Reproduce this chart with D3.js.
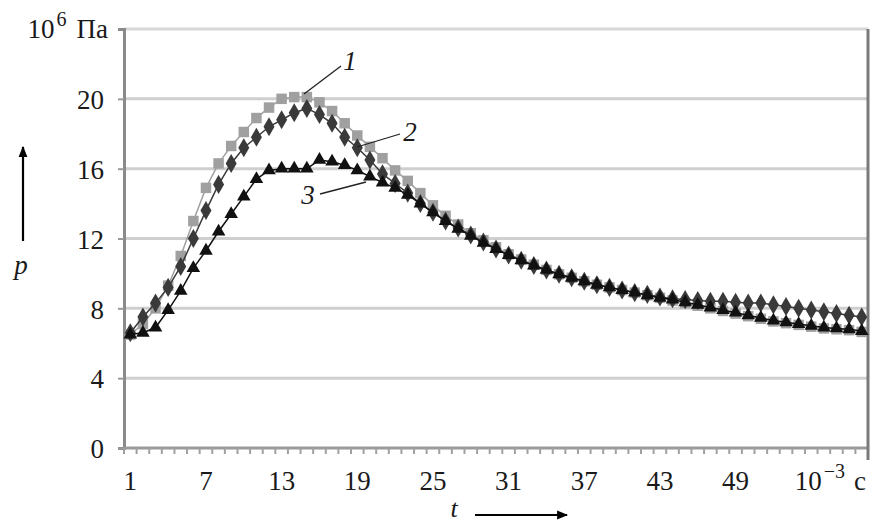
<!DOCTYPE html>
<html>
<head>
<meta charset="utf-8">
<script src="https://cdn.jsdelivr.net/npm/d3@7"></script>
<style>
  body { margin: 0; background: #fff; }
  svg text { font-family: "Liberation Serif", "DejaVu Serif", serif; fill: #1a1a1a; }
</style>
</head>
<body>
<svg id="chart" width="873" height="524"></svg>
<script>
// categories (time steps, 10^-3 s)
const categories = d3.range(1, 60);
const xTickLabels = [1, 7, 13, 19, 25, 31, 37, 43, 49];
const yTicks = [0, 4, 8, 12, 16, 20];

// curve 1 (grey squares)
const series1 = [
  6.5, 7.1, 8.0, 9.3, 11.0, 13.0, 14.9, 16.3, 17.3, 18.1, 18.9, 19.5, 20.0, 20.1, 20.1,
  19.8, 19.3, 18.6, 17.9, 17.25, 16.6, 15.9, 15.3, 14.6, 13.9,
  13.3, 12.8, 12.3, 11.9, 11.5, 11.1, 10.8, 10.5, 10.2, 9.95, 9.75, 9.55, 9.35, 9.2, 9.05, 8.9, 8.75, 8.6, 8.45,
  8.3, 8.15, 8.0, 7.85, 7.7, 7.55, 7.4, 7.25, 7.15, 7.05, 6.95, 6.85, 6.8, 6.75, 6.65
];
// curve 2 (dark diamonds)
const series2 = [
  6.6, 7.5, 8.3, 9.2, 10.4, 12.0, 13.6, 15.1, 16.3, 17.2, 17.8, 18.4, 18.8, 19.2, 19.45,
  19.1, 18.6, 17.8, 17.2, 16.5, 15.7, 15.15, 14.6, 14.0, 13.5,
  13.0, 12.6, 12.2, 11.8, 11.4, 11.05, 10.75, 10.45, 10.2, 9.95, 9.75, 9.55, 9.35, 9.2, 9.05, 8.9, 8.8, 8.65, 8.55,
  8.5, 8.45, 8.4, 8.4, 8.35, 8.3, 8.3, 8.2, 8.1, 8.0, 7.9, 7.8, 7.7, 7.6, 7.5
];
// curve 3 (black triangles)
const series3 = [
  6.5, 6.6, 6.9, 7.9, 9.0, 10.3, 11.3, 12.4, 13.4, 14.4, 15.4, 15.9, 16.0, 16.0, 16.0,
  16.5, 16.4, 16.2, 15.9, 15.55, 15.2, 14.9, 14.5, 14.0, 13.5,
  13.0, 12.55, 12.15, 11.75, 11.4, 11.05, 10.75, 10.45, 10.2, 9.95, 9.75, 9.55, 9.35, 9.2, 9.05, 8.9, 8.75, 8.6, 8.5,
  8.35, 8.2, 8.05, 7.9, 7.75, 7.6, 7.45, 7.3, 7.2, 7.1, 7.0, 6.9, 6.85, 6.8, 6.7
];

const svg = d3.select("#chart");
const plotLeft = 124, plotRight = 868, plotTop = 29, plotBottom = 448;

const x = d3.scaleBand().domain(categories).range([plotLeft, plotRight]).padding(0);
const y = d3.scaleLinear().domain([0, 24]).range([plotBottom, plotTop]);
const cx = (d) => x(d) + x.bandwidth() / 2;

// gridlines
svg.append("g")
  .selectAll("line")
  .data(yTicks.filter((t) => t > 0).concat([24]))
  .enter()
  .append("line")
  .attr("x1", plotLeft).attr("x2", plotRight)
  .attr("y1", (d) => y(d)).attr("y2", (d) => y(d))
  .attr("stroke", (d) => (d === 24 ? "#d6d6d6" : "#cfcfcf"))
  .attr("stroke-width", 3);

// left axis
const yAxis = svg.append("g")
  .attr("transform", `translate(${plotLeft},0)`)
  .call(d3.axisLeft(y).tickValues(yTicks).tickSize(6).tickPadding(14).tickFormat(d3.format("d")));
yAxis.select(".domain").attr("stroke", "#8a8a8a").attr("stroke-width", 3);
yAxis.selectAll(".tick line").attr("stroke", "#9a9a9a").attr("stroke-width", 2);
yAxis.selectAll(".tick text").style("font-size", "27px").attr("dy", "0.36em");

// bottom axis, tick marks between categories
const xAxis = svg.append("g").attr("transform", `translate(0,${plotBottom})`);
xAxis.append("line")
  .attr("x1", plotLeft).attr("x2", plotRight)
  .attr("stroke", "#9a9a9a").attr("stroke-width", 3);
xAxis.selectAll(".xt")
  .data(categories.concat([categories.length + 1]))
  .enter()
  .append("line")
  .attr("class", "xt")
  .attr("x1", (d) => plotLeft + (d - 1) * x.bandwidth())
  .attr("x2", (d) => plotLeft + (d - 1) * x.bandwidth())
  .attr("y1", 0).attr("y2", 6)
  .attr("stroke", "#a0a0a0").attr("stroke-width", 2);
xAxis.selectAll(".xl")
  .data(xTickLabels)
  .enter()
  .append("text")
  .attr("class", "xl")
  .attr("x", (d) => cx(d))
  .attr("y", 42)
  .attr("text-anchor", "middle")
  .style("font-size", "27px")
  .text((d) => d);

// right border
svg.append("line")
  .attr("x1", plotRight).attr("x2", plotRight)
  .attr("y1", plotTop).attr("y2", plotBottom + 12)
  .attr("stroke", "#7a7a7a").attr("stroke-width", 3);

// series
const lineGen = d3.line().x((d, i) => cx(categories[i])).y((d) => y(d));
const seriesDefs = [
  { data: series1, color: "#a0a0a0", symbol: d3.symbolSquare, size: 110 },
  { data: series2, color: "#3a3a3a", symbol: d3.symbolDiamond, size: 105 },
  { data: series3, color: "#111", symbol: d3.symbolTriangle, size: 80 }
];
seriesDefs.forEach((s) => {
  svg.append("path")
    .datum(s.data)
    .attr("fill", "none")
    .attr("stroke", s.color)
    .attr("stroke-width", 1.5)
    .attr("d", lineGen);
  svg.append("g")
    .selectAll("path")
    .data(s.data)
    .enter()
    .append("path")
    .attr("transform", (d, i) => `translate(${cx(categories[i])},${y(d)})`)
    .attr("fill", s.color)
    .attr("d", d3.symbol().type(s.symbol).size(s.size));
});

// curve labels with leader lines
const curveLabels = [
  { text: "1", tx: 350, ty: 70, x1: 341, y1: 66, x2: 304, y2: 94 },
  { text: "2", tx: 410, ty: 141, x1: 400, y1: 134, x2: 357, y2: 147 },
  { text: "3", tx: 308, ty: 204, x1: 320, y1: 194, x2: 366, y2: 182 }
];
curveLabels.forEach((c) => {
  svg.append("line")
    .attr("x1", c.x1).attr("y1", c.y1).attr("x2", c.x2).attr("y2", c.y2)
    .attr("stroke", "#222").attr("stroke-width", 1.3);
  svg.append("text")
    .attr("x", c.tx).attr("y", c.ty)
    .attr("text-anchor", "middle")
    .style("font-size", "27px").style("font-style", "italic")
    .text(c.text);
});

// axis units
const yUnit = svg.append("text").attr("x", 108).attr("y", 38).attr("text-anchor", "end").style("font-size", "27px");
yUnit.append("tspan").text("10");
yUnit.append("tspan").attr("dx", 2).attr("dy", -12).style("font-size", "20px").text("6");
yUnit.append("tspan").attr("dx", 10).attr("dy", 12).text("Па");

const xUnit = svg.append("text").attr("x", 866).attr("y", 490).attr("text-anchor", "end").style("font-size", "27px");
xUnit.append("tspan").text("10");
xUnit.append("tspan").attr("dx", 2).attr("dy", -12).style("font-size", "20px").text("−3");
xUnit.append("tspan").attr("dx", 9).attr("dy", 12).text("c");

// axis names with arrows
svg.append("defs").append("marker")
  .attr("id", "arrow")
  .attr("viewBox", "0 0 10 10")
  .attr("refX", 9).attr("refY", 5)
  .attr("markerWidth", 5).attr("markerHeight", 5)
  .attr("orient", "auto")
  .append("path").attr("d", "M0,1 L10,5 L0,9 z").attr("fill", "#000");

svg.append("line")
  .attr("x1", 23).attr("y1", 241).attr("x2", 23).attr("y2", 147)
  .attr("stroke", "#000").attr("stroke-width", 2.2)
  .attr("marker-end", "url(#arrow)");
svg.append("text").attr("x", 21).attr("y", 274).attr("text-anchor", "middle")
  .style("font-size", "27px").style("font-style", "italic").text("p");

svg.append("line")
  .attr("x1", 475).attr("y1", 515).attr("x2", 567).attr("y2", 515)
  .attr("stroke", "#000").attr("stroke-width", 2.2)
  .attr("marker-end", "url(#arrow)");
svg.append("text").attr("x", 454).attr("y", 517).attr("text-anchor", "middle")
  .style("font-size", "26px").style("font-style", "italic").text("t");
</script>
</body>
</html>
